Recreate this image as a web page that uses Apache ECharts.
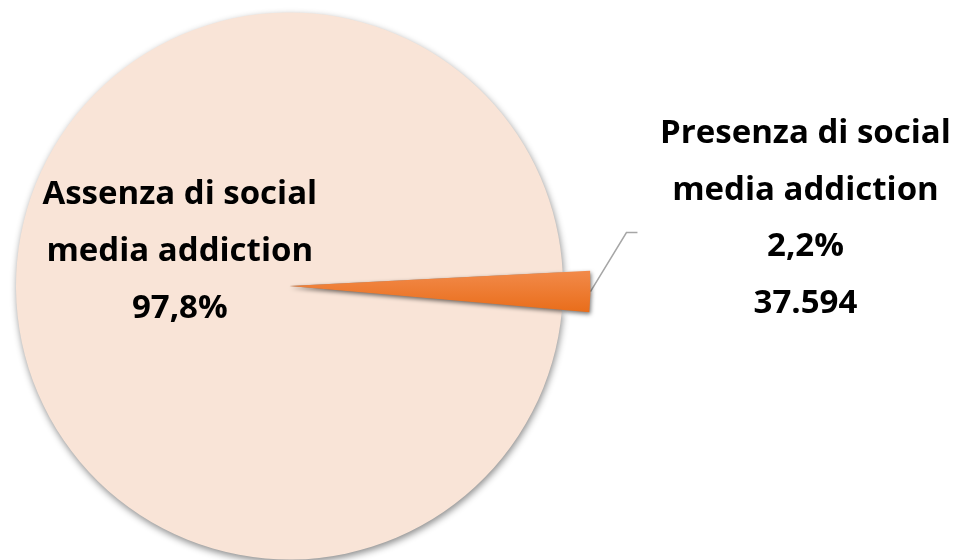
<!DOCTYPE html>
<html>
<head>
<meta charset="utf-8">
<script src="https://cdn.jsdelivr.net/npm/echarts@6/dist/echarts.min.js"></script>
<style>
  html, body { margin: 0; padding: 0; background: #ffffff; }
  #chart { width: 957px; height: 560px; }
</style>
</head>
<body>
<div id="chart"></div>
<script>
// ---- data ----
const categories = ['Presenza di social\nmedia addiction', 'Assenza di social\nmedia addiction'];
const percentages = [2.2, 97.8];
const counts = [37594, null];

// ---- helpers ----
function fmtPct(v) { return v.toFixed(1).replace('.', ',') + '%'; }
function fmtCount(v) { return v == null ? '' : v.toLocaleString('de-DE'); }

const FONT = 'Open Sans';
const labelBase = {
  fontFamily: FONT,
  fontWeight: 700,
  fontSize: 33,
  lineHeight: 56.7,
  color: '#000000',
  align: 'center'
};

const CENTER = [289.5, 286];
const START = 2.9;

function buildData(visibleIndex) {
  return categories.map((name, i) => {
    const visible = i === visibleIndex;
    const item = { name: name, value: percentages[i] };
    if (!visible) {
      item.itemStyle = { color: 'transparent', shadowBlur: 0, shadowColor: 'transparent' };
      item.label = { show: false };
      item.labelLine = { show: false };
      item.emphasis = { disabled: true };
    }
    return item;
  });
}

const chart = echarts.init(document.getElementById('chart'), null, { renderer: 'canvas' });

chart.setOption({
  animation: false,
  backgroundColor: '#ffffff',
  series: [
    {
      // main slice (Assenza)
      type: 'pie',
      center: CENTER,
      radius: [0, 273.5],
      startAngle: START,
      clockwise: true,
      silent: true,
      data: buildData(1),
      itemStyle: {
        color: '#F9E4D7',
        shadowBlur: 7,
        shadowOffsetX: 1,
        shadowOffsetY: 3,
        shadowColor: 'rgba(0,0,0,0.45)'
      },
      label: Object.assign({}, labelBase, {
        position: 'inside',
        formatter: p => p.name + '\n' + fmtPct(p.value)
      }),
      labelLayout: { dx: 30, dy: -32 },
      labelLine: { show: false }
    },
    {
      // exploded small slice (Presenza)
      type: 'pie',
      center: CENTER,
      radius: [0, 301],
      startAngle: START,
      clockwise: true,
      silent: true,
      data: buildData(0),
      itemStyle: {
        color: {
          type: 'linear', x: 0, y: 0, x2: 0, y2: 1,
          colorStops: [
            { offset: 0, color: '#F28A4A' },
            { offset: 1, color: '#E96D1A' }
          ]
        },
        shadowBlur: 4,
        shadowOffsetX: 1,
        shadowOffsetY: 2,
        shadowColor: 'rgba(0,0,0,0.55)'
      },
      label: Object.assign({}, labelBase, {
        position: 'outside',
        formatter: p => p.name + '\n' + fmtPct(p.value) + '\n' + fmtCount(counts[p.dataIndex])
      }),
      labelLine: {
        show: true,
        smooth: false,
        lineStyle: { color: '#A6A6A6', width: 1.5 }
      },
      labelLayout: function (params) {
        const pts = params.labelLinePoints;
        if (!pts) return {};
        const p0 = pts[0];
        const p1 = [p0[0] + 36, p0[1] - 59];
        const p2 = [p0[0] + 47, p0[1] - 59];
        return {
          x: p0[0] + 215,
          y: p0[1] - 73,
          align: 'center',
          verticalAlign: 'middle',
          labelLinePoints: [p0, p1, p2]
        };
      }
    }
  ]
});
</script>
</body>
</html>
